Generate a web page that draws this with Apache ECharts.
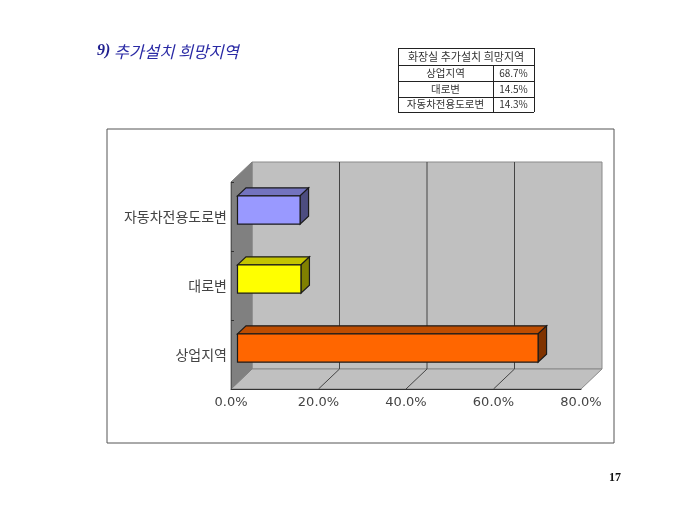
<!DOCTYPE html>
<html><head><meta charset="utf-8">
<style>html,body{margin:0;padding:0;background:#fff}#c{width:680px;height:510px}</style>
<script src="https://cdn.jsdelivr.net/npm/echarts@6/dist/echarts.min.js"></script>
</head><body><div id="c"></div>
<script>
const categories = ['상업지역', '대로변', '자동차전용도로변'];
const values = [68.7, 14.5, 14.3];
const tableLabels = ['상업지역', '대로변', '자동차전용도로변'];
const tableValues = ['68.7%', '14.5%', '14.3%'];
const tableTitle = '화장실 추가설치 희망지역';
const xTicks = [0, 20, 40, 60, 80];
const faceColors = ['#ff6600', '#ffff00', '#9999ff'];
const topColors = ['#bf4d00', '#c4c400', '#7373bf'];
const sideColors = ['#803300', '#808000', '#4d4d80'];

const KR = '"Noto Sans CJK KR","Noto Sans",sans-serif';
const DX = 21, DY = -20;          // depth of the 3D box
const BX = 6.5, BY = -6.5;        // bar's place inside the depth
const SX = 8.5, SY = -8;          // bar's own depth

const chart = echarts.init(document.getElementById('c'), null, {renderer: 'canvas'});

function poly(points, fill, stroke, lw) {
  return {type: 'polygon', shape: {points}, style: {fill, stroke: stroke || 'none', lineWidth: lw || 0}};
}
function seg(x1, y1, x2, y2, stroke, lw) {
  return {type: 'line', shape: {x1, y1, x2, y2}, style: {stroke, lineWidth: lw}};
}

function renderBox(params, api) {
  const g = params.coordSys;
  const L = g.x, R = g.x + g.width, T = g.y, B = g.y + g.height;
  return {type: 'group', children: [
    poly([[L + DX, T + DY], [R + DX, T + DY], [R + DX, B + DY], [L + DX, B + DY]], '#c0c0c0', '#8a8a8a', 1),
    poly([[L, B], [L + DX, B + DY], [R + DX, B + DY], [R, B]], '#c0c0c0', '#8a8a8a', 1),
    poly([[L, T], [L + DX, T + DY], [L + DX, B + DY], [L, B]], '#808080', '#808080', 1)
  ]};
}
function renderGrid(params, api) {
  const v = api.value(0);
  const g = params.coordSys;
  const x = api.coord([v, 0])[0], B = g.y + g.height, T = g.y;
  return {type: 'group', children: [
    seg(x + DX, T + DY, x + DX, B + DY, '#444', 1),
    seg(x, B, x + DX, B + DY, '#444', 1)
  ]};
}
function renderBar(params, api) {
  const i = api.value(0), v = api.value(1);
  const p0 = api.coord([0, i]), p1 = api.coord([v, i]);
  const h = api.size([0, 1])[1] * 0.41;
  const l = p0[0] + BX, r = p1[0] + BX, t = p0[1] + BY - h / 2, b = p0[1] + BY + h / 2;
  const ln = '#1a1a1a';
  return {type: 'group', children: [
    poly([[l, t], [l + SX, t + SY], [r + SX, t + SY], [r, t]], topColors[i], ln, 1.2),
    poly([[r, t], [r + SX, t + SY], [r + SX, b + SY], [r, b]], sideColors[i], ln, 1.2),
    poly([[l, t], [r, t], [r, b], [l, b]], faceColors[i], ln, 1.2)
  ]};
}

// page furniture: frame, heading, small table, page number
const graphic = [
  {type: 'rect', shape: {x: 107, y: 129, width: 507, height: 314}, style: {fill: 'none', stroke: '#555', lineWidth: 1}, z: -1},
  {type: 'text', x: 97, y: 43, style: {
    rich: {
      a: {font: 'italic bold 16px "Liberation Serif",serif', fill: '#1f1f8f'},
      b: {font: 'italic 16.5px ' + KR, fill: '#2a2aa5'}
    },
    text: '{a|9)} {b|추가설치 희망지역}'
  }},
  {type: 'text', x: 609, y: 472, style: {text: '17', font: 'bold 12px "Liberation Serif",serif', fill: '#111'}}
];
const TX = [398, 493, 534], TY = [48, 65, 81, 97, 112];
TY.forEach(y => graphic.push({type: 'line', shape: {x1: TX[0], y1: y + .5, x2: TX[2], y2: y + .5}, style: {stroke: '#222', lineWidth: 1}}));
[[TX[0], TY[0]], [TX[2], TY[0]], [TX[1], TY[1]]].forEach(([x, y]) =>
  graphic.push({type: 'line', shape: {x1: x + .5, y1: y, x2: x + .5, y2: TY[4]}, style: {stroke: '#222', lineWidth: 1}}));
const cell = (text, x, y, size) => graphic.push({type: 'text', x, y, style: {text, font: size + 'px ' + KR, fill: '#333', align: 'center', verticalAlign: 'middle'}});
cell(tableTitle, (TX[0] + TX[2]) / 2, (TY[0] + TY[1]) / 2, 11);
tableLabels.forEach((t, i) => {
  cell(t, (TX[0] + TX[1]) / 2, (TY[i + 1] + TY[i + 2]) / 2, 10.5);
  cell(tableValues[i], (TX[1] + TX[2]) / 2, (TY[i + 1] + TY[i + 2]) / 2, 10);
});

chart.setOption({
  animation: false,
  backgroundColor: '#fff',
  graphic,
  grid: {left: 231, top: 182, width: 350, height: 207, containLabel: false},
  xAxis: {
    type: 'value', min: 0, max: 80, interval: 20, z: 4,
    axisLine: {show: true, lineStyle: {color: '#333', width: 1}},
    axisTick: {show: false}, splitLine: {show: false},
    axisLabel: {formatter: v => v.toFixed(1) + '%', color: '#444', fontSize: 13, margin: 7, fontFamily: '"DejaVu Sans",sans-serif', hideOverlap: false}
  },
  yAxis: {
    type: 'category', data: categories, z: 4,
    axisLine: {show: true, lineStyle: {color: '#555', width: 1}},
    axisTick: {show: true, inside: true, length: 3, lineStyle: {color: '#333'}},
    splitLine: {show: false},
    axisLabel: {color: '#444', fontSize: 14, margin: 4, fontFamily: KR}
  },
  series: [
    {type: 'custom', name: 'box', silent: true, z: 1, data: [[0]], encode: {x: 0}, renderItem: renderBox},
    {type: 'custom', name: 'grid', silent: true, z: 2, data: xTicks.slice(1, -1).map(v => [v]), encode: {x: 0}, renderItem: renderGrid},
    {type: 'custom', name: 'bars', z: 3, data: values.map((v, i) => [i, v]), encode: {x: 1, y: 0}, renderItem: renderBar}
  ]
});
</script></body></html>
